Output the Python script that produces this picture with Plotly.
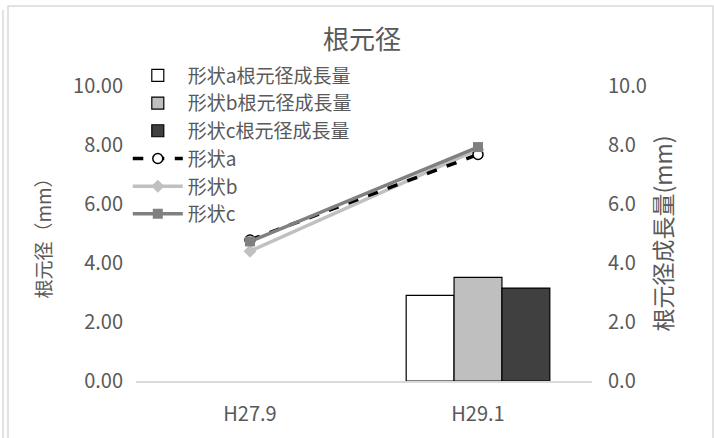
import plotly.graph_objects as go

# Survey dates
categories = ["H27.9", "H29.1"]

# Root collar diameter (mm) per shape
shape_a = [4.78, 7.68]
shape_b = [4.40, 7.85]
shape_c = [4.73, 7.93]

# Root collar diameter growth (mm) per shape
growth_a = [None, 2.90]
growth_b = [None, 3.51]
growth_c = [None, 3.15]

FONT = "Noto Sans CJK JP"
TXT = "#595959"
PW, PH = 456, 295  # plot-area size in px, used to place the frame

fig = go.Figure()

# Growth bars on the secondary axis
fig.add_trace(go.Bar(x=categories, y=growth_a, name="形状a根元径成長量", yaxis="y2",
                     marker=dict(color="white", line=dict(color="black", width=1.2))))
fig.add_trace(go.Bar(x=categories, y=growth_b, name="形状b根元径成長量", yaxis="y2",
                     marker=dict(color="#bfbfbf", line=dict(color="black", width=1.2))))
fig.add_trace(go.Bar(x=categories, y=growth_c, name="形状c根元径成長量", yaxis="y2",
                     marker=dict(color="#404040", line=dict(color="black", width=1.2))))

# Diameter lines on the primary axis
fig.add_trace(go.Scatter(x=categories, y=shape_a, name="形状a", mode="lines+markers",
                         line=dict(color="black", width=3.5, dash="dash"),
                         marker=dict(symbol="circle", size=10, color="white",
                                     line=dict(color="black", width=1.5))))
fig.add_trace(go.Scatter(x=categories, y=shape_b, name="形状b", mode="lines+markers",
                         line=dict(color="#c0c0c0", width=3.5),
                         marker=dict(symbol="diamond", size=10, color="#c0c0c0")))
fig.add_trace(go.Scatter(x=categories, y=shape_c, name="形状c", mode="lines+markers",
                         line=dict(color="#808080", width=3.5),
                         marker=dict(symbol="square", size=10, color="#808080")))

# Draw shape b beneath a and c while keeping legend order a, b, c
fig.data[4].legendrank = 1005
fig.data[3].legendrank = 1004
fig.data[5].legendrank = 1006
fig.data = tuple([fig.data[0], fig.data[1], fig.data[2], fig.data[4], fig.data[3], fig.data[5]])

fig.update_layout(
    width=714, height=438,
    margin=dict(l=136, r=122, t=86, b=57),
    paper_bgcolor="white", plot_bgcolor="white",
    font=dict(family=FONT, color=TXT, size=19),
    title=dict(text="根元径", x=0.507, xanchor="center", y=0.908, yanchor="middle",
               font=dict(size=26, color=TXT)),
    barmode="group", bargap=0.37, bargroupgap=0,
    showlegend=True,
    legend=dict(x=-0.018, y=1.1, xanchor="left", yanchor="top",
                bgcolor="rgba(0,0,0,0)", font=dict(size=19, color=TXT),
                traceorder="normal", tracegroupgap=0, itemwidth=50),
    xaxis=dict(showline=True, linecolor="#d9d9d9", linewidth=1.5, ticks="",
               showgrid=False, ticklabelstandoff=14,
               tickfont=dict(size=20, color=TXT)),
    yaxis=dict(range=[0, 10], dtick=2, tickformat=".2f", showgrid=False,
               zeroline=False, showline=False, ticks="", ticklabelstandoff=12,
               title=dict(text="根元径（mm）", font=dict(size=19, color=TXT), standoff=16),
               tickfont=dict(size=20, color=TXT)),
    yaxis2=dict(range=[0, 10], dtick=2, tickformat=".1f", overlaying="y", side="right",
                showgrid=False, zeroline=False, showline=False, ticks="",
                ticklabelstandoff=15,
                title=dict(text="根元径成長量(mm)", font=dict(size=23, color=TXT), standoff=10),
                tickfont=dict(size=20, color=TXT)),
)

# Light chart-area frame
fig.add_shape(type="rect", xref="paper", yref="paper",
              x0=-128 / PW, x1=1 + 121 / PW, y0=-62 / PH, y1=1 + 80 / PH,
              line=dict(color="#d9d9d9", width=1.5), fillcolor="rgba(0,0,0,0)")
fig.add_shape(type="line", xref="paper", yref="paper",
              x0=-133 / PW, x1=-133 / PW, y0=-62 / PH, y1=1 + 76 / PH,
              line=dict(color="#d9d9d9", width=1.5))

fig.write_html("out.html")
